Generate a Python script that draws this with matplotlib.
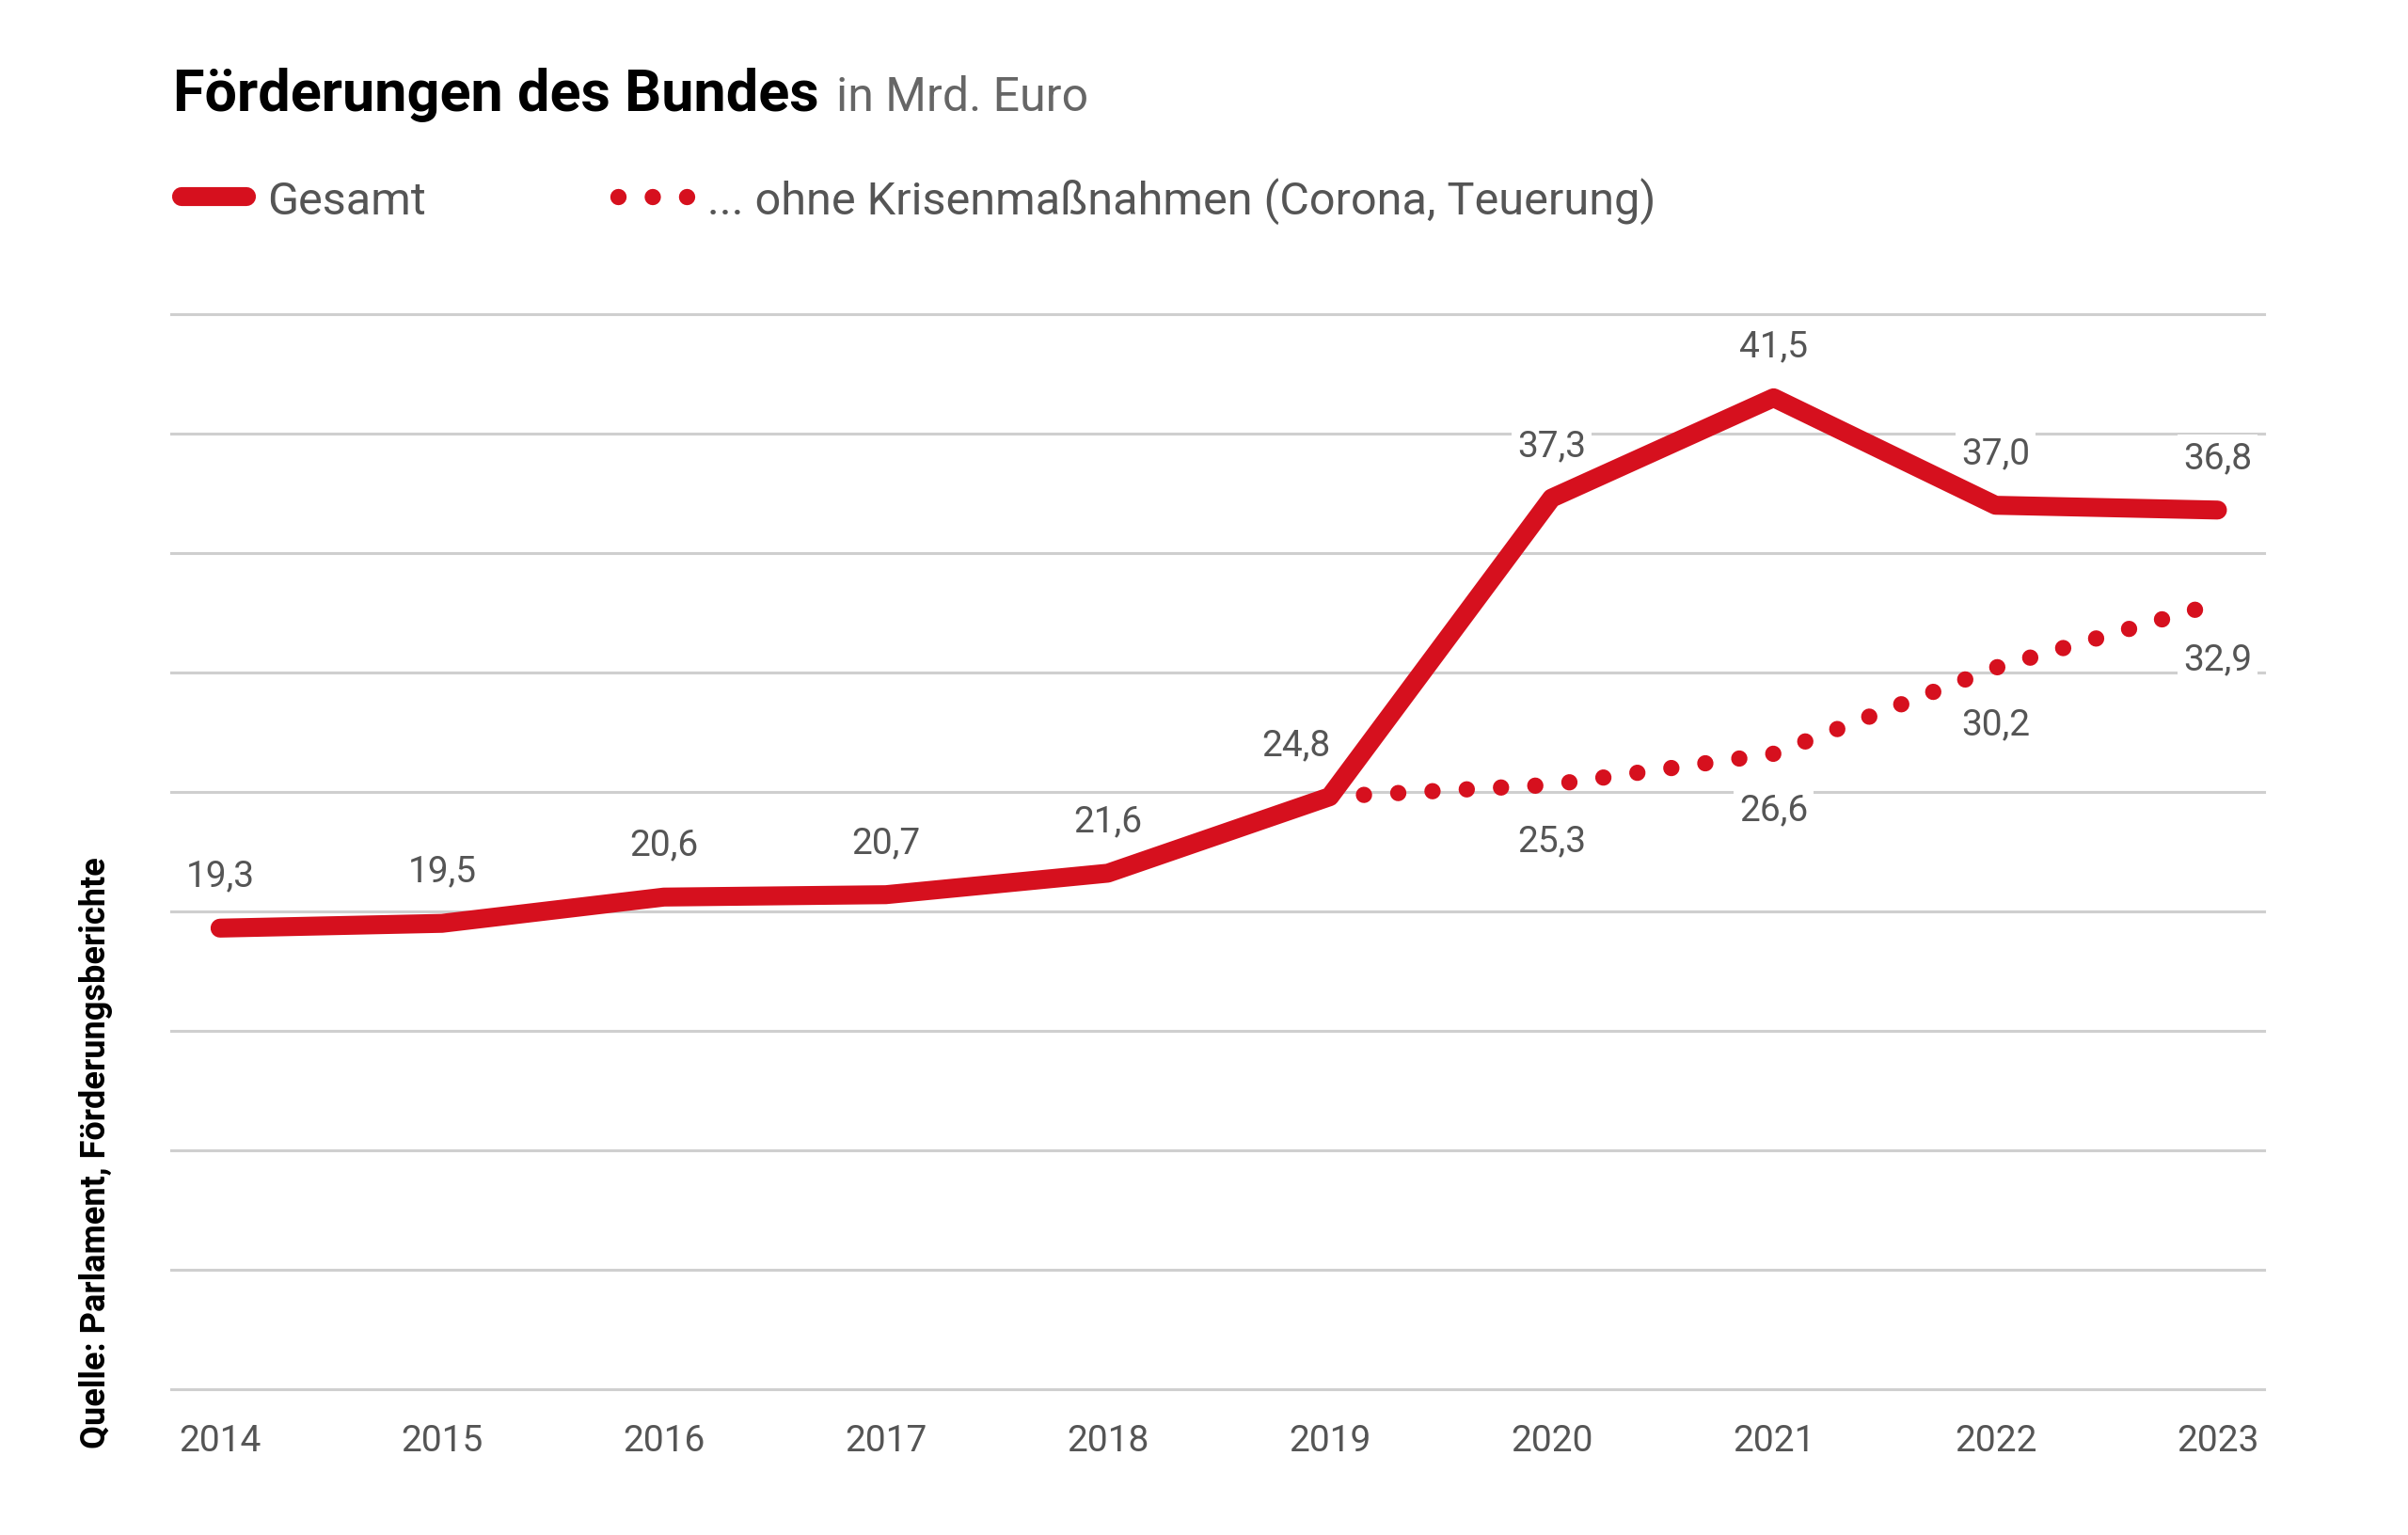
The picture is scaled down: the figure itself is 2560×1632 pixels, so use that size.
import matplotlib
matplotlib.use("Agg")
import matplotlib.pyplot as plt
from matplotlib.lines import Line2D

# data (Mrd. Euro)
years = [2014, 2015, 2016, 2017, 2018, 2019, 2020, 2021, 2022, 2023]
gesamt = [19.3, 19.5, 20.6, 20.7, 21.6, 24.8, 37.3, 41.5, 37.0, 36.8]
ohne_years = [2019, 2020, 2021, 2022, 2023]
ohne_krise = [24.8, 25.3, 26.6, 30.2, 32.9]
grid_values = [0, 5, 10, 15, 20, 25, 30, 35, 40, 45]

title = "Förderungen des Bundes"
subtitle = "in Mrd. Euro"
legend_labels = ["Gesamt", "... ohne Krisenmaßnahmen (Corona, Teuerung)"]
source = "Quelle: Parlament, Förderungsberichte"

RED = "#d6101e"
GREY = "#555555"
GRID = "#cfcfcf"
FONT = ["Roboto", "DejaVu Sans"]

W, H, DPI = 2560, 1633, 100
plt.rcParams["font.family"] = FONT

fig = plt.figure(figsize=(W / DPI, H / DPI), dpi=DPI)
fig.patch.set_facecolor("white")

# plot area in pixels: x 182..2407, y 335..1478 (from top)
ax = fig.add_axes([182 / W, 1 - 1478 / H, (2407 - 182) / W, (1478 - 335) / H])
ax.set_xlim(2013.78, 2023.21)
ax.set_ylim(0, 45)

ax.set_yticks(grid_values)
ax.set_yticklabels([])
ax.set_xticks(years)
ax.set_xticklabels([str(y) for y in years])
ax.tick_params(axis="both", length=0)
ax.tick_params(axis="x", pad=26, labelsize=28, labelcolor=GREY)
for s in ax.spines.values():
    s.set_visible(False)
ax.grid(axis="y", color=GRID, linewidth=2.2)
ax.grid(axis="x", visible=False)
for gl in ax.yaxis.get_gridlines():
    gl.set_clip_on(False)
ax.set_axisbelow(True)

# dotted series first, then the thick line on top
dot_lw = 12.5
dot_style = (0, (0.001, 2.1))
line_lw = 14.5
ax.plot(ohne_years, ohne_krise, color=RED, linewidth=dot_lw,
        linestyle=dot_style, dash_capstyle="round",
        clip_on=False, zorder=3)
ax.plot(years, gesamt, color=RED, linewidth=line_lw,
        solid_capstyle="round", solid_joinstyle="round",
        clip_on=False, zorder=4)

label_box = dict(boxstyle="square,pad=0.15", facecolor="white", edgecolor="none")


def fmt(v):
    return f"{v:.1f}".replace(".", ",")


shift_x = {2019: -26}
for x, v in zip(years, gesamt):
    ax.annotate(fmt(v), (x, v), xytext=(shift_x.get(x, 0), 40),
                textcoords="offset points", ha="center", va="center",
                fontsize=28, color=GREY, bbox=label_box, zorder=2)

for x, v in zip(ohne_years[1:], ohne_krise[1:]):
    ax.annotate(fmt(v), (x, v), xytext=(0, -43),
                textcoords="offset points", ha="center", va="center",
                fontsize=28, color=GREY, bbox=label_box, zorder=2)

# title + subtitle
t = fig.text(184 / W, 1 - 118 / H, title, fontsize=44, fontweight="bold",
             color="black", ha="left", va="baseline")
fig.canvas.draw()
bb = t.get_window_extent(renderer=fig.canvas.get_renderer())
fig.text((bb.x1 + 18) / W, 1 - 118 / H, subtitle, fontsize=36,
         color="#666666", ha="left", va="baseline")

# legend drawn by hand
leg_y = 1 - 210 / H
leg_base = 1 - 228 / H
fig.add_artist(Line2D([193 / W, 262 / W], [leg_y, leg_y], color=RED,
                      linewidth=line_lw, solid_capstyle="round"))
fig.text(284 / W, leg_base, legend_labels[0], fontsize=35, color=GREY,
         ha="left", va="baseline")
fig.add_artist(Line2D([657 / W, 734 / W], [leg_y, leg_y], color=RED,
                      linewidth=dot_lw, linestyle=dot_style,
                      dash_capstyle="round"))
fig.text(752 / W, leg_base, legend_labels[1], fontsize=35, color=GREY,
         ha="left", va="baseline")

# source, rotated along the left edge
fig.text(102 / W, 1 - 1540 / H, source, rotation=90, fontsize=26,
         fontweight="bold", color="black", ha="center", va="bottom")

fig.savefig("out.png", dpi=DPI, facecolor="white")
